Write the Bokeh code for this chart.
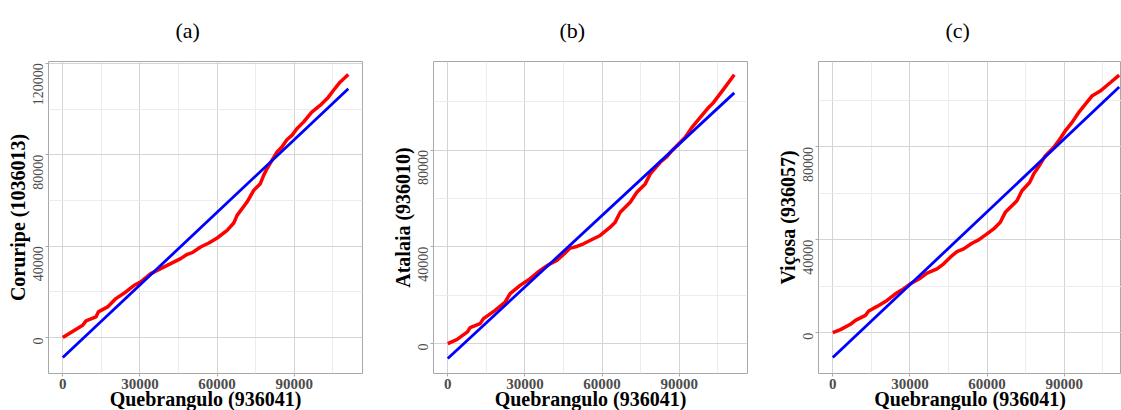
import math
from bokeh.plotting import figure
from bokeh.layouts import row
from bokeh.models import Range1d, FixedTicker, Title
from bokeh.embed import file_html
from bokeh.resources import INLINE

# ---------------- data ----------------
x_label = "Quebrangulo (936041)"
panel_titles = ["(a)", "(b)", "(c)"]
y_labels = ["Coruripe (1036013)", "Atalaia (936010)", "Viçosa (936057)"]

x_ticks = [0, 30000, 60000, 90000]
x_minor = [15000, 45000, 75000, 105000]
y_ticks_a = [0, 40000, 80000, 120000]
y_ticks_bc = [0, 40000, 80000]
y_minor = [20000, 60000, 100000]

# quantile pairs (Quebrangulo vs station)
a_x = [0, 7746, 9037, 12910, 13814, 17429, 20656, 24529, 27757, 30339, 34212, 38085,
       41958, 45831, 48413, 50349, 53577, 56804, 60032, 63905, 66487, 67778, 71651,
       74233, 76815, 78106, 79397, 81333, 83270, 85206, 87143, 89079, 91016, 93598,
       96825, 100053, 103280, 105217, 107799, 111026]
a_y = [0, 5391, 7285, 9033, 11219, 13404, 17047, 19961, 22875, 24332, 27974, 30160,
       32345, 34531, 36425, 37154, 39630, 41379, 43564, 46915, 50121, 53472, 59300,
       64399, 67313, 70956, 73870, 77512, 81155, 83340, 86546, 88440, 91354, 94268,
       98639, 101553, 105195, 108109, 111752, 115103]

b_x = [0, 3502, 7652, 8690, 12581, 13878, 18417, 22308, 24254, 28145, 32036, 35927,
       39169, 42412, 45006, 47600, 50194, 52788, 56678, 59272, 63163, 65109, 67055,
       70946, 73540, 76782, 78728, 82619, 85213, 87158, 89752, 92346, 94940, 98183,
       101425, 103371, 107262, 111412]
b_y = [0, 1650, 4813, 6600, 8250, 10313, 13750, 17188, 20625, 24063, 26813, 30250,
       32588, 34375, 36850, 39463, 40150, 41250, 43313, 44688, 48125, 50188, 54313,
       58438, 62563, 66000, 70125, 74938, 77275, 79750, 82500, 85250, 89375, 93500,
       97625, 99688, 105188, 111100]

c_x = [0, 2979, 6864, 8806, 12691, 13986, 17224, 21109, 24346, 27584, 30174, 34059,
       36649, 40534, 43124, 45714, 48304, 50894, 54131, 56721, 59959, 62549, 65139,
       67081, 71614, 73556, 76535, 78089, 80679, 82621, 85859, 87801, 90391, 92981,
       95571, 98161, 100751, 103989, 107874, 111370]
c_y = [0, 1288, 3578, 5295, 7441, 9302, 11305, 13881, 16743, 18889, 21036, 23468,
       25615, 27475, 29622, 32484, 34916, 36061, 38494, 39925, 42501, 44647, 47509,
       51802, 56811, 61104, 64681, 68259, 72552, 76129, 79707, 82569, 86862, 90439,
       94732, 98310, 101887, 104033, 107611, 110903]

# fitted reference lines: intercept, slope
fit_a = (-8742, 1.059)
fit_b = (-6188, 0.9857)
fit_c = (-10733, 1.046)

# axis limits
x_lim = (-5550, 116550)
y_lim_a = (-15740, 120800)
y_lim_b = (-12375, 116600)
y_lim_c = (-17600, 116770)

# ---------------- styling ----------------
SERIF = "Liberation Serif"
FRAME_W = 314
FRAME_H = 312
XTICK_FS = 15
YTICK_FS = 14
TICK_COLOR = "#4d4d4d"


def make_panel(title, ylab, xs, ys, fit, ylim, yticks, frame_w, x_end, right_border, title_offset):
    p = figure(width=48 + frame_w + right_border, height=410,
               frame_width=frame_w, frame_height=FRAME_H,
               x_range=Range1d(x_lim[0], x_end), y_range=Range1d(*ylim),
               output_backend="svg", toolbar_location=None,
               min_border_left=48, min_border_right=right_border,
               min_border_top=61, min_border_bottom=37)
    p.background_fill_color = "white"
    p.border_fill_color = "white"
    p.outline_line_color = "#a8a8a8"
    p.outline_line_width = 1

    # grid
    p.xgrid.ticker = FixedTicker(ticks=x_ticks, minor_ticks=x_minor)
    p.ygrid.ticker = FixedTicker(ticks=yticks, minor_ticks=y_minor)
    for g in (p.xgrid, p.ygrid):
        g.grid_line_color = "#d4d4d4"
        g.grid_line_width = 1
        g.minor_grid_line_color = "#ececec"
        g.minor_grid_line_width = 1

    # lines
    intercept, slope = fit
    lx = [min(xs), max(xs)]
    ly = [intercept + slope * v for v in lx]
    p.line(xs, ys, line_color="#ff0000", line_width=3.5)
    p.line(lx, ly, line_color="#0000ff", line_width=2.8)

    # x axis
    xa = p.xaxis[0]
    xa.ticker = FixedTicker(ticks=x_ticks)
    xa.axis_line_color = None
    xa.major_tick_line_color = "#a8a8a8"
    xa.major_tick_in = 0
    xa.major_tick_out = 3
    xa.minor_tick_line_color = None
    xa.major_label_text_font = SERIF
    xa.major_label_text_font_style = "bold"
    xa.major_label_text_font_size = f"{XTICK_FS}px"
    xa.major_label_text_color = TICK_COLOR
    xa.major_label_standoff = 2
    xa.axis_label = x_label
    xa.axis_label_text_font = SERIF
    xa.axis_label_text_font_style = "bold"
    xa.axis_label_text_font_size = "20px"
    xa.axis_label_text_color = "black"
    xa.axis_label_standoff = -4

    # y axis: labels read upward and end at the gridline (ggplot hjust=1 look)
    upp = (ylim[1] - ylim[0]) / FRAME_H
    shifted = []
    overrides = {}
    for t in yticks:
        half_px = len(str(t)) * YTICK_FS * 0.5 / 2
        s = int(round(t - half_px * upp))
        shifted.append(s)
        overrides[s] = str(t)
    ya = p.yaxis[0]
    ya.ticker = FixedTicker(ticks=shifted, minor_ticks=yticks)
    ya.major_label_overrides = overrides
    ya.axis_line_color = None
    ya.major_tick_line_color = None
    ya.minor_tick_line_color = "#a8a8a8"
    ya.minor_tick_in = 0
    ya.minor_tick_out = 3
    ya.major_tick_out = 3
    ya.major_tick_in = 0
    ya.major_label_orientation = "parallel"
    ya.major_label_text_font = SERIF
    ya.major_label_text_font_style = "normal"
    ya.major_label_text_font_size = f"{YTICK_FS}px"
    ya.major_label_text_color = TICK_COLOR
    ya.major_label_standoff = 2
    ya.axis_label = ylab
    ya.axis_label_text_font = SERIF
    ya.axis_label_text_font_style = "bold"
    ya.axis_label_text_font_size = "20px"
    ya.axis_label_text_color = "black"
    ya.axis_label_standoff = 2

    t = Title(text=title, align="left", offset=title_offset, vertical_align="top",
              text_font=SERIF, text_font_style="normal",
              text_font_size="22px", text_color="black", standoff=33)
    p.add_layout(t, "above")
    return p


x_end_full = x_lim[1]
x_end_c = x_lim[0] + 303 * (x_lim[1] - x_lim[0]) / FRAME_W

pa = make_panel(panel_titles[0], y_labels[0], a_x, a_y, fit_a, y_lim_a, y_ticks_a,
                FRAME_W, x_end_full, 23, 127)
pb = make_panel(panel_titles[1], y_labels[1], b_x, b_y, fit_b, y_lim_b, y_ticks_bc,
                FRAME_W, x_end_full, 23, 126)
pc = make_panel(panel_titles[2], y_labels[2], c_x, c_y, fit_c, y_lim_c, y_ticks_bc,
                303, x_end_c, 0, 127)

layout = row(pa, pb, pc)
open("out.html", "w").write(file_html(layout, INLINE))
